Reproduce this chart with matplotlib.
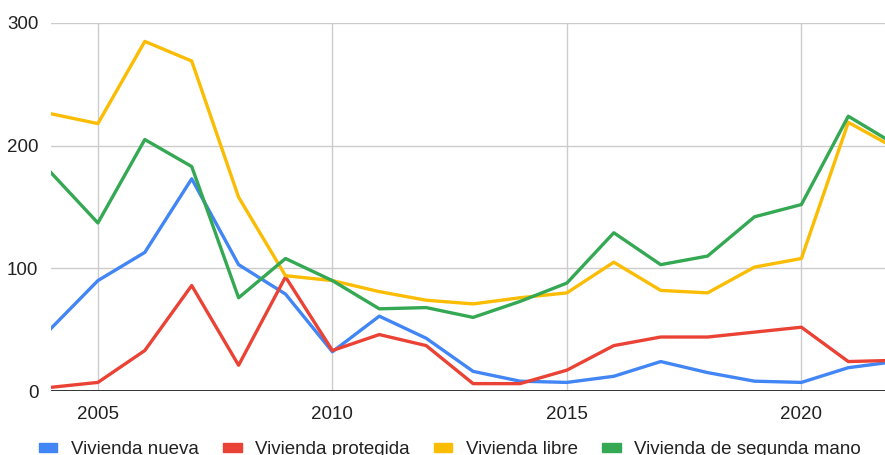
import matplotlib
matplotlib.use("Agg")
import matplotlib.pyplot as plt

years = list(range(2004, 2023))
nueva = [51, 90, 113, 173, 103, 79, 32, 61, 43, 16, 8, 7, 12, 24, 15, 8, 7, 19, 24]
protegida = [3, 7, 33, 86, 21, 93, 33, 46, 37, 6, 6, 17, 37, 44, 44, 48, 52, 24, 25]
libre = [226, 218, 285, 269, 158, 94, 90, 81, 74, 71, 76, 80, 105, 82, 80, 101, 108, 219, 198]
segunda = [178, 137, 205, 183, 76, 108, 90, 67, 68, 60, 73, 88, 129, 103, 110, 142, 152, 224, 201]

series = [
    ("Vivienda nueva", nueva, "#4285F4"),
    ("Vivienda protegida", protegida, "#EA4335"),
    ("Vivienda libre", libre, "#FBBC04"),
    ("Vivienda de segunda mano", segunda, "#34A853"),
]

plt.rcParams['font.family'] = ['Liberation Sans', 'DejaVu Sans']

fig = plt.figure(figsize=(8.85, 4.55), dpi=100)
ax = fig.add_axes([51 / 885, 1 - 391 / 455, 1 - 51 / 885, (391 - 23) / 455])

for label, vals, col in series:
    ax.plot(years, vals, color=col, lw=2.4, label=label, clip_on=True)

ax.set_xlim(2004, 2004 + (885 - 51) / 46.9)
ax.set_ylim(0, 300)
ax.set_xticks([2005, 2010, 2015, 2020])
ax.set_yticks([0, 100, 200, 300])
ax.grid(True, color='#cccccc', lw=1)
ax.set_axisbelow(True)
for s in ax.spines.values():
    s.set_visible(False)
ax.axhline(0, color='#333333', lw=1.4, zorder=3)
ax.tick_params(length=0, labelsize=13.5, colors='#222222')
ax.tick_params(axis='y', pad=9)
ax.tick_params(axis='x', pad=11)

handles = [plt.Rectangle((0, 0), 1, 1, color=c) for _, _, c in series]
fig.legend(handles, [s[0] for s in series], loc='center', ncol=4,
           bbox_to_anchor=(0.508, 1 - 450 / 455), frameon=False, fontsize=13.5,
           handlelength=1.0, handleheight=0.35, columnspacing=1.3, handletextpad=0.7,
           labelcolor='#222222')

fig.savefig("out.png", dpi=100)
